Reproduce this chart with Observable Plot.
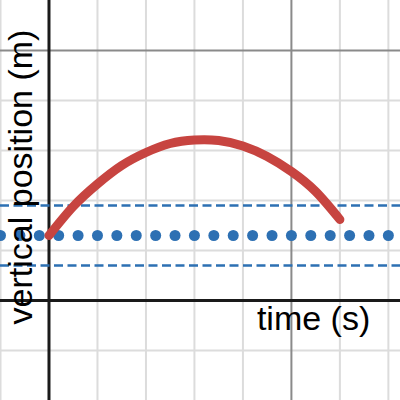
<!DOCTYPE html>
<html>
<head>
<meta charset="utf-8">
<script src="https://cdn.jsdelivr.net/npm/d3@7"></script>
<script src="https://cdn.jsdelivr.net/npm/@observablehq/plot@0.6"></script>
<style>
  html, body { margin: 0; padding: 0; background: #fff; }
  #chart svg { display: block; }
</style>
</head>
<body>
<div id="chart"></div>
<script>
// ---- data ----
const xDomain = [-1, 7.25];
const yDomain = [-2, 6];
const minorX = [-1, 1, 2, 3, 4, 6, 7];
const majorX = [5];
const minorY = [-1, 1, 2, 3, 4];
const majorY = [5];
const axisZero = [0];

// red trajectory: time (s) vs vertical position (m)
const curveTime = [0, 0.5, 1.0, 1.5, 2.0, 2.5, 3.0, 3.5, 4.0, 4.5, 5.0, 5.5, 6.0];
const curvePos  = [1.30, 1.88, 2.33, 2.70, 2.96, 3.14, 3.21, 3.20, 3.09, 2.88, 2.58, 2.18, 1.62];

// dotted centre line (dot positions) and dashed band levels
const dotTimes = [-1.0, -0.6, -0.2, 0.2, 0.6, 1.0, 1.4, 1.8, 2.2, 2.6, 3.0,
                  3.4, 3.8, 4.2, 4.6, 5.0, 5.4, 5.8, 6.2, 6.6, 7.0];
const centerLevel = 1.3;
const bandLevels = [0.7, 1.9];

const xLabel = "time (s)";
const yLabel = "vertical position (m)";

// ---- chart ----
const W = 400, H = 400;
const curveData = curveTime.map((t, i) => ({t, y: curvePos[i]}));
const dotData = dotTimes.map(t => ({t, y: centerLevel}));

const blue = "#2d70b3";
const red = "#c74440";
const font = "'Liberation Sans', Arial, Helvetica, sans-serif";

const chart = Plot.plot({
  width: W,
  height: H,
  margin: 0,
  x: {domain: xDomain, axis: null},
  y: {domain: yDomain, axis: null},
  style: {fontFamily: font, background: "#fff"},
  marks: [
    Plot.ruleX(minorX, {stroke: "#dcdcdc", strokeWidth: 2}),
    Plot.ruleY(minorY, {stroke: "#dcdcdc", strokeWidth: 2}),
    Plot.ruleX(majorX, {stroke: "#8a8a8a", strokeWidth: 2}),
    Plot.ruleY(majorY, {stroke: "#8a8a8a", strokeWidth: 2}),
    Plot.ruleX(axisZero, {stroke: "#1a1a1a", strokeWidth: 3}),
    Plot.ruleY(axisZero, {stroke: "#1a1a1a", strokeWidth: 3}),
    Plot.ruleY(bandLevels, {stroke: blue, strokeWidth: 2.3, strokeDasharray: "9,4.5"}),
    Plot.dot(dotData, {x: "t", y: "y", r: 5.5, fill: blue, stroke: "none"}),
    Plot.line(curveData, {
      x: "t", y: "y", curve: "natural",
      stroke: red, strokeWidth: 9, strokeLinecap: "round", strokeLinejoin: "round"
    }),
    Plot.text([xLabel], {
      frameAnchor: "left", textAnchor: "start", lineAnchor: "bottom",
      dx: 256.4, dy: 129.3, fontSize: 34, fill: "#000"
    }),
    Plot.text([yLabel], {
      frameAnchor: "left", textAnchor: "middle", lineAnchor: "middle", rotate: -90,
      dx: 21, dy: -23.5, fontSize: 34, fill: "#000"
    })
  ]
});

document.getElementById("chart").appendChild(chart);
</script>
</body>
</html>
